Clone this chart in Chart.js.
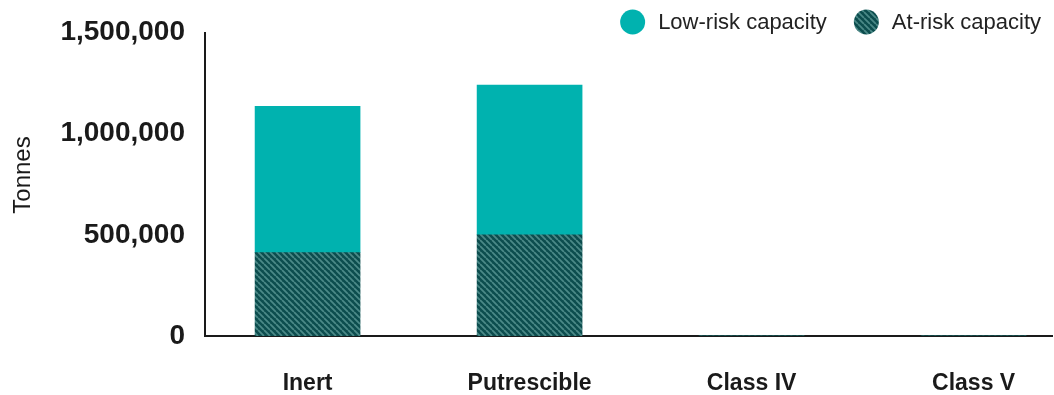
<!DOCTYPE html>
<html>
<head>
<meta charset="utf-8">
<script src="https://cdn.jsdelivr.net/npm/chart.js@4.4.1/dist/chart.umd.min.js"></script>
<style>
  html, body { margin: 0; padding: 0; background: #fff; overflow: hidden; }
  #wrap { width: 1054px; height: 395px; position: relative; }
</style>
</head>
<body>
<div id="wrap"><canvas id="chart" width="1054" height="395"></canvas></div>
<script>
// Landfill capacity by waste class, in tonnes
const categories = ['Inert', 'Putrescible', 'Class IV', 'Class V'];
const atRiskCapacity = [412000, 500000, 0, 0];
const lowRiskCapacity = [723000, 740000, 0, 0];
const yTicks = [0, 500000, 1000000, 1500000];
const seriesNames = { low: 'Low-risk capacity', atRisk: 'At-risk capacity' };
const yTitle = 'Tonnes';

const FONT = '"Liberation Sans", Arial, Helvetica, sans-serif';
const TEXT = '#1a1a1a';
const TEAL = '#00b2af';

const canvas = document.getElementById('chart');
const ctx = canvas.getContext('2d');

// Dark teal with light diagonal stripes for the at-risk share
function makeHatch() {
  const s = 6;
  const tile = document.createElement('canvas');
  tile.width = s; tile.height = s;
  const g = tile.getContext('2d');
  g.fillStyle = '#0c4d4e';
  g.fillRect(0, 0, s, s);
  g.strokeStyle = '#4b8987';
  g.lineWidth = 1.8;
  g.beginPath();
  for (const o of [-s, 0, s]) { g.moveTo(o, 0); g.lineTo(o + s, s); }
  g.stroke();
  return ctx.createPattern(tile, 'repeat');
}
const HATCH = makeHatch();

const toPoints = arr => arr.map((v, i) => ({ x: i, y: v }));

// Legend with round markers, drawn right-aligned above the plot,
// plus the rotated y-axis caption
const decorPlugin = {
  id: 'decor',
  afterDraw(chart) {
    const c = chart.ctx;
    const items = [
      { label: seriesNames.low, fill: TEAL },
      { label: seriesNames.atRisk, fill: HATCH }
    ];
    c.save();
    c.font = '22px ' + FONT;
    c.textBaseline = 'middle';
    c.textAlign = 'left';
    const cy = 22, r = 12.5, gapText = 13, gapItem = 27;
    let right = 1041;
    const pos = [];
    for (let i = items.length - 1; i >= 0; i--) {
      const w = c.measureText(items[i].label).width;
      const tx = right - w;
      const cx = tx - gapText - r;
      pos[i] = { tx, cx };
      right = cx - r - gapItem;
    }
    items.forEach((it, i) => {
      c.beginPath();
      c.arc(pos[i].cx, cy, r, 0, Math.PI * 2);
      c.fillStyle = it.fill;
      c.fill();
      c.fillStyle = '#222';
      c.fillText(it.label, pos[i].tx, cy + 1);
    });

    // y-axis caption
    c.translate(23, 175);
    c.rotate(-Math.PI / 2);
    c.font = '24px ' + FONT;
    c.textAlign = 'center';
    c.fillStyle = TEXT;
    c.fillText(yTitle, 0, 0);
    c.restore();
  }
};

new Chart(ctx, {
  type: 'bar',
  data: {
    datasets: [
      { label: seriesNames.atRisk, data: toPoints(atRiskCapacity), backgroundColor: HATCH, barThickness: 105, borderWidth: 0 },
      { label: seriesNames.low, data: toPoints(lowRiskCapacity), backgroundColor: TEAL, barThickness: 105, borderWidth: 0 }
    ]
  },
  options: {
    responsive: false,
    animation: false,
    devicePixelRatio: 1,
    layout: { padding: { top: 0, right: 2, left: 0, bottom: 0 } },
    plugins: { legend: { display: false }, tooltip: { enabled: false } },
    scales: {
      x: {
        type: 'linear',
        stacked: true,
        offset: false,
        min: -0.462,
        max: 3.353,
        afterBuildTicks: s => { s.ticks = categories.map((_, i) => ({ value: i })); },
        afterFit: s => { s.height = 59; },
        grid: { display: false, drawTicks: false, offset: false },
        border: { color: TEXT, width: 2 },
        ticks: {
          callback: v => categories[v],
          font: { family: FONT, size: 23, weight: 'bold' },
          color: TEXT,
          padding: 34,
          maxRotation: 0,
          autoSkip: false
        }
      },
      y: {
        stacked: true,
        min: 0,
        max: 1500000,
        afterBuildTicks: s => { s.ticks = yTicks.map(v => ({ value: v })); },
        afterFit: s => { s.width = 205; },
        grid: { display: false, drawTicks: false },
        border: { color: TEXT, width: 2 },
        ticks: {
          callback: v => v.toLocaleString('en-US'),
          font: { family: FONT, size: 28, weight: 'bold', lineHeight: 0.9 },
          color: TEXT,
          padding: 20
        },
        title: { display: false }
      }
    }
  },
  plugins: [decorPlugin]
});
</script>
</body>
</html>
